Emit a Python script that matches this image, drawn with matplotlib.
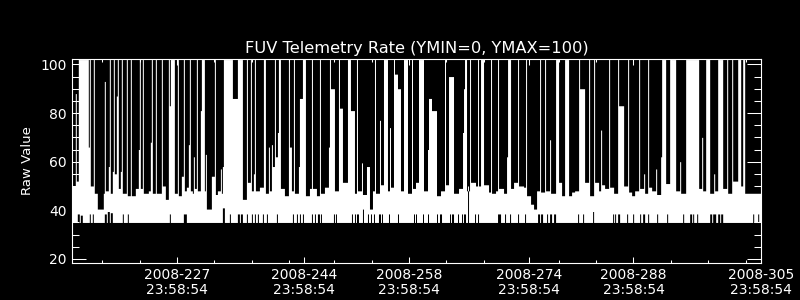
import numpy as np
import matplotlib
matplotlib.use("Agg")
import matplotlib.pyplot as plt
from matplotlib.ticker import FixedLocator, MultipleLocator

# ---------------- data ----------------
T_START, T_END = 214.0, 306.0      # day of year 2008 (axis span)
N_SAMPLES = 688                    # samples across the span
BASE_LO = 35.0                     # usual minimum of each sample bin
TOP_HI = 102.0                     # bins whose maximum runs off the top

# bins where the maximum stays low: (first_bin, last_bin, max value)
HI_DIPS = [
    (0, 2, 50), (3, 3, 88), (4, 5, 52), (16, 16, 66), (18, 20, 50), (22, 24, 47),
    (25, 30, 40.5), (31, 31, 47), (32, 32, 93), (33, 35, 48), (36, 36, 58), (38, 39, 47),
    (40, 40, 56), (42, 43, 55), (44, 44, 87), (46, 47, 49), (48, 48, 56), (50, 53, 47),
    (55, 57, 46), (59, 62, 46), (63, 65, 49), (66, 66, 65), (68, 69, 49), (71, 75, 47),
    (76, 77, 48), (78, 78, 68), (80, 82, 47), (84, 88, 47), (90, 92, 50), (93, 95, 44.5),
    (97, 97, 83),
    (102, 104, 47), (106, 108, 46), (109, 110, 54), (112, 113, 48), (114, 115, 49.5),
    (116, 116, 67), (118, 119, 48), (120, 120, 47), (121, 121, 62), (122, 123, 49),
    (125, 127, 48), (128, 128, 81), (132, 132, 48), (133, 133, 63), (134, 138, 40.5),
    (139, 141, 54), (143, 144, 46.5), (145, 147, 48), (148, 148, 57), (149, 149, 47),
    (150, 150, 58), (160, 164, 86), (170, 173, 44.5), (175, 177, 51.5), (179, 180, 48),
    (181, 181, 55), (183, 186, 48), (187, 190, 49.5), (193, 195, 47), (196, 196, 66),
    (197, 198, 48), (199, 199, 67), (200, 201, 58), (203, 204, 62), (205, 205, 72),
    (208, 211, 49), (212, 215, 46), (217, 218, 66), (219, 220, 48), (222, 225, 47),
    (226, 226, 58), (227, 229, 86), (233, 236, 46), (237, 238, 49), (240, 243, 49),
    (244, 246, 46), (248, 251, 47), (252, 255, 49.5), (256, 256, 66), (258, 261, 90),
    (262, 265, 48), (267, 269, 82), (270, 274, 51.5), (278, 281, 81), (282, 283, 47),
    (285, 288, 48), (289, 289, 59.5), (290, 293, 46.5), (294, 294, 58),
    (295, 296, 58), (297, 299, 40.5), (300, 301, 48), (303, 306, 47), (307, 307, 77),
    (308, 310, 50.5), (315, 316, 48), (317, 317, 74), (318, 320, 49.5), (322, 324, 96),
    (325, 327, 90), (328, 330, 48), (335, 338, 47), (340, 342, 49), (343, 345, 51.5),
    (351, 354, 48), (355, 355, 65), (356, 358, 86), (359, 363, 81), (364, 367, 46),
    (368, 371, 48), (373, 375, 50.5), (376, 380, 95), (381, 385, 47), (386, 389, 49),
    (390, 390, 72), (391, 391, 90),
    (394, 396, 48), (398, 402, 51.5), (403, 404, 50), (406, 407, 50), (411, 415, 50.5),
    (416, 417, 47.5), (419, 422, 47), (423, 424, 48), (426, 430, 49), (431, 433, 47),
    (434, 434, 62), (438, 440, 49), (441, 444, 51.5), (446, 450, 50), (451, 452, 49.5),
    (454, 457, 46), (458, 460, 42.5), (461, 463, 40.5), (464, 466, 48), (468, 471, 47.5),
    (473, 476, 48), (477, 477, 69), (478, 482, 47), (486, 488, 51.5),
    (489, 491, 46), (496, 498, 46), (499, 501, 47.5), (502, 505, 48), (507, 511, 90),
    (512, 515, 51.5), (517, 520, 46), (522, 525, 51.5), (526, 527, 48), (528, 528, 73),
    (529, 531, 50.5), (532, 535, 49), (537, 540, 49.5), (541, 544, 47), (546, 550, 83),
    (551, 554, 50), (556, 558, 47.5), (559, 561, 46), (562, 565, 48), (567, 570, 49),
    (571, 571, 55), (572, 574, 47), (576, 578, 49.5), (579, 582, 48), (583, 583, 57),
    (584, 587, 46.5), (588, 588, 62),
    (593, 596, 51), (603, 606, 48), (607, 607, 60), (608, 612, 47), (626, 628, 49),
    (629, 629, 70), (630, 632, 48), (637, 640, 47), (641, 641, 55), (642, 644, 48),
    (650, 653, 49), (655, 658, 47), (660, 664, 52), (668, 669, 50), (672, 687, 47),
]

# bins where the minimum stays above the usual floor: (first_bin, last_bin, min value)
LO_SPIKES = [
    (5, 6, 38.5), (8, 9, 38), (17, 17, 38.5), (20, 20, 38.5), (32, 33, 38.5), (35, 36, 39.5),
    (38, 39, 39), (50, 50, 38.5), (55, 55, 38.5), (97, 97, 38.5), (111, 113, 38.5),
    (150, 151, 41), (157, 157, 38.5), (165, 166, 38.5), (168, 169, 38.5), (174, 174, 38.5),
    (179, 179, 38.5), (182, 182, 38.5), (185, 185, 38.5), (190, 190, 38.5), (194, 194, 38.5),
    (204, 204, 38.5), (220, 220, 38.5), (224, 224, 38.5), (227, 227, 38.5), (230, 230, 38.5),
    (239, 239, 38.5), (242, 242, 38.5), (245, 246, 38.5), (248, 248, 38.5), (261, 261, 38.5),
    (263, 263, 38.5), (279, 279, 38.5), (282, 282, 38.5), (284, 285, 38.5), (290, 290, 40.5),
    (295, 295, 38.5), (298, 298, 38.5), (301, 301, 38.5), (306, 307, 38.5), (309, 309, 38.5),
    (316, 316, 38.5), (325, 325, 38.5), (341, 341, 38.5), (343, 343, 38.5), (350, 350, 38.5),
    (355, 355, 38.5), (364, 364, 38.5), (367, 368, 38.5), (377, 377, 38.5), (379, 380, 38.5),
    (385, 385, 38.5), (389, 389, 38.5), (391, 392, 38.5), (395, 395, 50), (402, 402, 38.5),
    (405, 405, 38.5), (425, 427, 38.5), (432, 432, 38.5), (437, 437, 38.5), (445, 445, 38.5),
    (452, 452, 38.5), (465, 466, 38.5), (468, 469, 38.5), (474, 474, 38.5), (477, 478, 38.5),
    (481, 482, 38.5), (505, 505, 38.5), (510, 510, 38.5), (520, 520, 39.5), (540, 540, 38.5),
    (542, 542, 38.5), (545, 546, 38.5), (554, 554, 38.5), (560, 560, 38.5), (567, 567, 38.5),
    (570, 571, 38.5), (575, 575, 38.5), (584, 584, 38.5), (594, 594, 38.5), (610, 610, 38.5),
    (617, 618, 38.5), (620, 620, 38.5), (624, 624, 38.5), (637, 638, 38.5), (640, 642, 38.5),
    (645, 646, 38.5), (648, 649, 38.5), (680, 680, 38.5), (685, 685, 38.5),
]

TICK_DAYS = [227, 244, 258, 274, 288, 305]
TICK_TIME = "23:58:54"
MINOR_DAYS = [218, 223, 233, 238, 243, 249, 254, 264, 269, 279, 284, 294, 299, 304]
Y_LIMITS = (18.2, 102.1)
TITLE = "FUV Telemetry Rate (YMIN=0, YMAX=100)"
YLABEL = "Raw Value"

# ---------------- build series ----------------
dt = (T_END - T_START) / N_SAMPLES
edges = T_START + np.arange(N_SAMPLES + 1) * dt
hi = np.full(N_SAMPLES, TOP_HI)
for a, b, v in HI_DIPS:
    hi[a:b + 1] = v
lo = np.full(N_SAMPLES, BASE_LO)
for a, b, v in LO_SPIKES:
    lo[a:b + 1] = v

hh, mm, ss = (int(p) for p in TICK_TIME.split(":"))
frac = (hh * 3600 + mm * 60 + ss) / 86400.0
tick_pos = [d + frac for d in TICK_DAYS]
tick_lab = [f"2008-{d}\n{TICK_TIME}" for d in TICK_DAYS]

# ---------------- figure ----------------
plt.rcParams["font.family"] = ["DejaVu Sans"]
fig = plt.figure(figsize=(8, 3), dpi=100, facecolor="black")
ax = fig.add_axes([72.3 / 800, 36.7 / 300, 688.4 / 800, 204.0 / 300])
ax.set_facecolor("black")

ax.fill_between(edges, np.append(lo, lo[-1]), np.append(hi, hi[-1]),
                step="post", color="white", linewidth=0, antialiased=False,
                zorder=1)

ax.set_xlim(T_START, T_END)
ax.set_ylim(*Y_LIMITS)

for s in ax.spines.values():
    s.set_color("white")
    s.set_linewidth(0.8)
    s.set_zorder(5)

ax.xaxis.set_major_locator(FixedLocator(tick_pos))
ax.set_xticklabels(tick_lab)
ax.xaxis.set_minor_locator(FixedLocator(MINOR_DAYS))
ax.yaxis.set_major_locator(MultipleLocator(20))
ax.yaxis.set_minor_locator(MultipleLocator(5))

ax.tick_params(axis="both", which="both", direction="in", colors="white",
               top=True, right=True, width=0.75)
ax.tick_params(axis="y", which="major", length=10, pad=4, labelsize=10)
ax.tick_params(axis="y", which="minor", length=5)
ax.tick_params(axis="x", which="major", length=4.3, pad=3.5, labelsize=10)
ax.tick_params(axis="x", which="minor", length=2.5)
for lab in ax.get_xticklabels():
    lab.set_linespacing(1.05)

fig.text(416.5 / 800, 1 - 53.3 / 300, TITLE, color="white", fontsize=11.7,
         ha="center", va="baseline")
fig.text(27.5 / 800, 1 - 161 / 300, YLABEL, color="white", fontsize=9.5,
         rotation=90, ha="center", va="center")

fig.savefig("out.png", dpi=100, facecolor="black")
